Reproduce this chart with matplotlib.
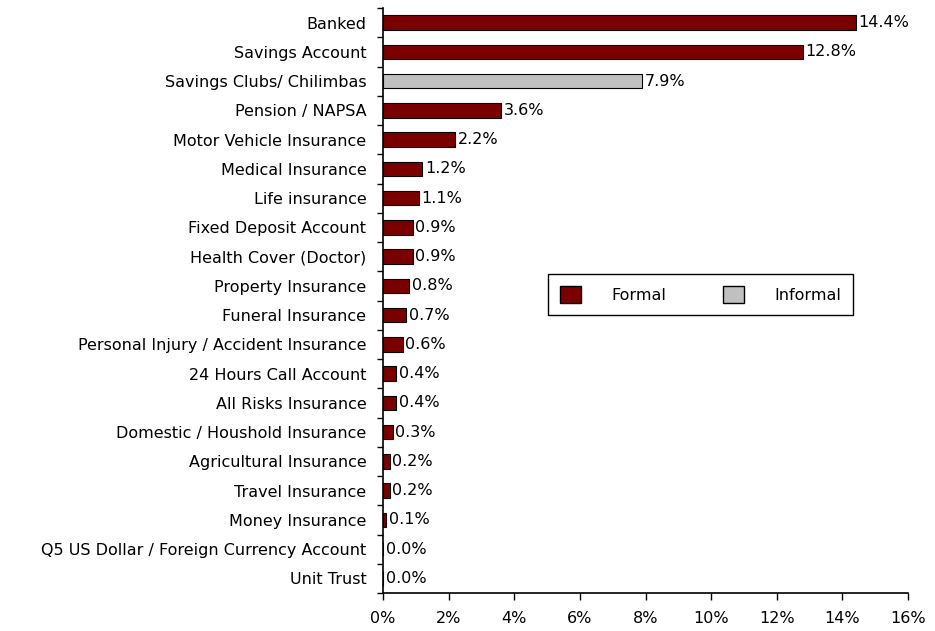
import matplotlib
matplotlib.use('Agg')
import matplotlib.pyplot as plt
import numpy as np
from matplotlib.patches import Patch

# product categories, top to bottom
categories = ['Banked', 'Savings Account', 'Savings Clubs/ Chilimbas', 'Pension / NAPSA',
              'Motor Vehicle Insurance', 'Medical Insurance', 'Life insurance',
              'Fixed Deposit Account', 'Health Cover (Doctor)', 'Property Insurance',
              'Funeral Insurance', 'Personal Injury / Accident Insurance',
              '24 Hours Call Account', 'All Risks Insurance', 'Domestic / Houshold Insurance',
              'Agricultural Insurance', 'Travel Insurance', 'Money Insurance',
              'Q5 US Dollar / Foreign Currency Account', 'Unit Trust']
values = [14.4, 12.8, 7.9, 3.6, 2.2, 1.2, 1.1, 0.9, 0.9, 0.8,
          0.7, 0.6, 0.4, 0.4, 0.3, 0.2, 0.2, 0.1, 0.0, 0.0]
kind = ['Formal', 'Formal', 'Informal'] + ['Formal'] * 17
xticks = [0, 2, 4, 6, 8, 10, 12, 14, 16]

col = {'Formal': '#7a0000', 'Informal': '#c0c0c0'}
fs = 11.5

fig = plt.figure(figsize=(9.35, 6.31), dpi=100)
ax = fig.add_axes([383/935, 38/631, 525/935, 585/631])

y = np.arange(len(categories))
ax.barh(y, values, height=0.5, color=[col[k] for k in kind],
        edgecolor='black', linewidth=0.8)
for yi, v in zip(y, values):
    ax.text(v + 0.08, yi, '%.1f%%' % v, va='center', ha='left', fontsize=fs)

ax.set_ylim(len(categories) - 0.5, -0.5)
ax.set_xlim(0, 16)
ax.set_yticks(y)
ax.set_yticklabels(categories, fontsize=fs)
ax.tick_params(axis='y', length=0, pad=12)
ax.set_yticks(np.arange(len(categories) + 1) - 0.5, minor=True)
ax.tick_params(axis='y', which='minor', length=4, width=1, direction='out')
ax.set_xticks(xticks)
ax.set_xticklabels(['%d%%' % t for t in xticks], fontsize=fs)
ax.tick_params(axis='x', length=5, width=1, direction='out', pad=8)

for s in ['top', 'right']:
    ax.spines[s].set_visible(False)
ax.spines['left'].set_linewidth(1.2)
ax.spines['bottom'].set_linewidth(1.2)

handles = [Patch(facecolor=col['Formal'], edgecolor='black'),
           Patch(facecolor=col['Informal'], edgecolor='black')]
leg = fig.legend(handles, ['Formal', 'Informal'], ncol=2, loc='upper left',
                 bbox_to_anchor=(548/935, 1 - 274/631), borderaxespad=0,
                 fontsize=fs, frameon=True, fancybox=False, edgecolor='black',
                 framealpha=1, handlelength=1.3, handleheight=1.3,
                 handletextpad=1.9, columnspacing=3.6, borderpad=0.75)
leg.get_frame().set_linewidth(1.0)

fig.savefig('out.png', dpi=100)
